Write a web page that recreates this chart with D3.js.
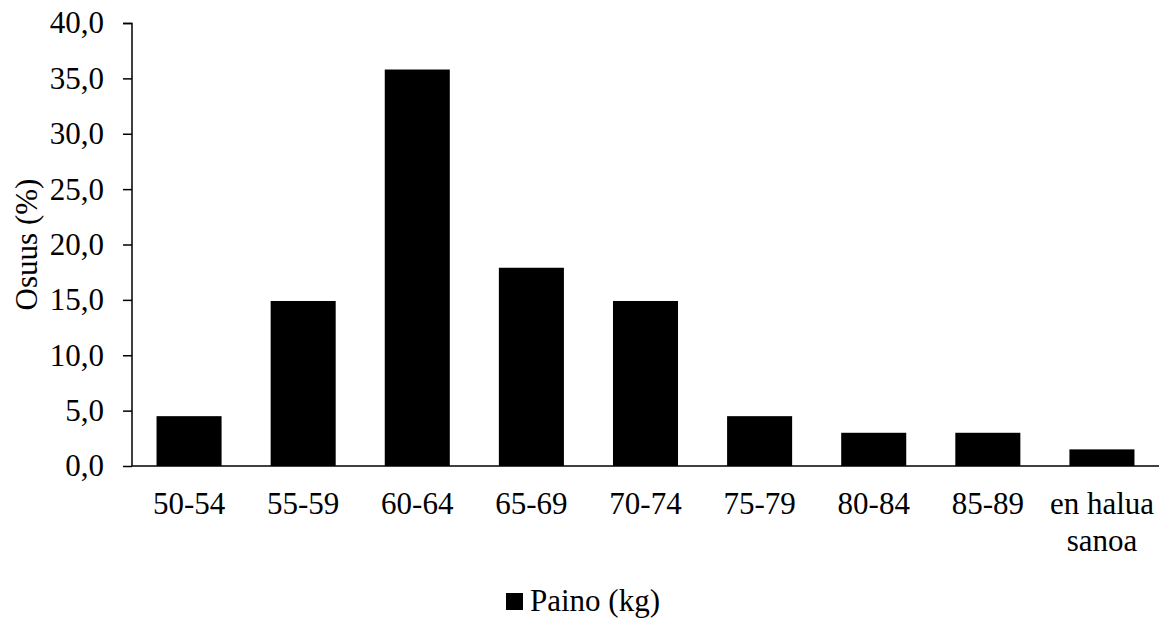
<!DOCTYPE html>
<html>
<head>
<meta charset="utf-8">
<script src="https://cdn.jsdelivr.net/npm/d3@7"></script>
<style>
  html, body { margin: 0; padding: 0; background: #fff; }
  svg text { font-family: "Liberation Serif", Tinos, "Times New Roman", Times, serif; fill: #000; }
</style>
</head>
<body>
<svg id="chart" width="1167" height="619"></svg>
<script>
// Weight distribution of respondents (share, %)
const categories = ["50-54", "55-59", "60-64", "65-69", "70-74", "75-79", "80-84", "85-89", "en halua sanoa"];
const shares = [4.5, 14.9, 35.8, 17.9, 14.9, 4.5, 3.0, 3.0, 1.5];
const yTicks = [0, 5, 10, 15, 20, 25, 30, 35, 40];
const seriesName = "Paino (kg)";
const yTitle = "Osuus (%)";

const svg = d3.select("#chart");
const margin = { left: 132, right: 8, top: 23, bottom: 153 };
const W = 1167, H = 619;
const plotW = W - margin.left - margin.right;
const plotH = H - margin.top - margin.bottom;

const g = svg.append("g").attr("transform", `translate(${margin.left},${margin.top})`);

const x = d3.scaleBand().domain(categories).range([0, plotW]).paddingInner(0.43).paddingOuter(0.215);
const y = d3.scaleLinear().domain([0, 40]).range([plotH, 0]);

// bars
g.selectAll("rect.bar")
  .data(categories.map((c, i) => ({ c, v: shares[i] })))
  .join("rect")
  .attr("class", "bar")
  .attr("x", d => x(d.c))
  .attr("width", x.bandwidth())
  .attr("y", d => y(d.v))
  .attr("height", d => plotH - y(d.v))
  .attr("fill", "#000");

// y axis
const yAxis = g.append("g")
  .call(d3.axisLeft(y).tickValues(yTicks).tickSize(9).tickPadding(19)
    .tickFormat(d => d3.format(".1f")(d).replace(".", ",")));
yAxis.attr("font-family", null).attr("font-size", null);
yAxis.selectAll("path, line").attr("stroke", "#000").attr("stroke-width", 1.5);
yAxis.select("path.domain").attr("d", `M-9,0.5H0V${plotH}`);
yAxis.selectAll("text").attr("font-size", 31);

// x axis
const xAxis = g.append("g").attr("transform", `translate(0,${plotH})`)
  .call(d3.axisBottom(x).tickSize(0).tickPadding(26));
xAxis.attr("font-family", null).attr("font-size", null);
xAxis.select("path.domain").attr("stroke", "#000").attr("stroke-width", 1.5).attr("d", `M0,0H${plotW}`);
xAxis.selectAll("text")
  .attr("font-size", 31)
  .each(function (d) {
    const t = d3.select(this);
    if (d === "en halua sanoa") {
      t.text(null);
      t.append("tspan").attr("x", 0).attr("dy", "0.71em").text("en halua");
      t.append("tspan").attr("x", 0).attr("dy", "1.2em").text("sanoa");
      t.attr("dy", null);
    }
  });

// y axis title
svg.append("text")
  .attr("transform", `translate(37,${margin.top + plotH / 2}) rotate(-90)`)
  .attr("text-anchor", "middle")
  .attr("font-size", 31)
  .text(yTitle);

// legend
const legend = svg.append("g").attr("transform", "translate(506,593)");
legend.append("rect").attr("width", 17).attr("height", 17).attr("fill", "#000");
legend.append("text").attr("x", 24).attr("y", 18).attr("font-size", 31).text(seriesName);
</script>
</body>
</html>
